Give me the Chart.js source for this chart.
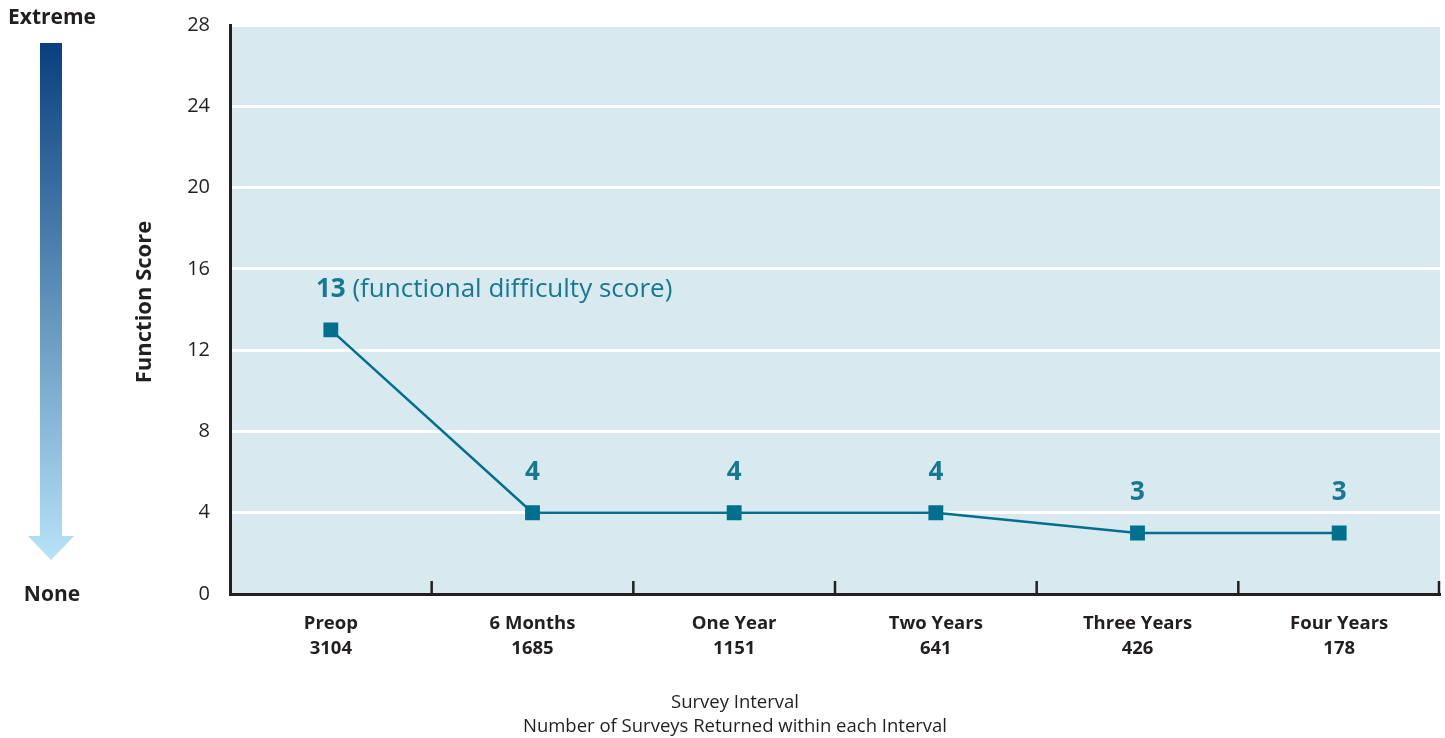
<!DOCTYPE html>
<html>
<head>
<meta charset="utf-8">
<script src="https://cdn.jsdelivr.net/npm/chart.js@4"></script>
<style>
  html, body { margin: 0; padding: 0; background: #fff; overflow: hidden; }
  #wrap { width: 1445px; height: 738px; position: relative; }
  canvas { display: block; }
</style>
</head>
<body>
<div id="wrap"><canvas id="chart" width="1445" height="738"></canvas></div>
<script>
const intervals = ["Preop", "6 Months", "One Year", "Two Years", "Three Years", "Four Years"];
const surveyCounts = ["3104", "1685", "1151", "641", "426", "178"];
const scores = [13, 4, 4, 4, 3, 3];
const yTicks = [0, 4, 8, 12, 16, 20, 24, 28];

const FONT = "'Open Sans', 'Noto Sans', sans-serif";
const TEXT = "#231f20";
const TEAL = "#00708e";
const LABEL = "#17788f";

// light blue plot background
const plotBg = {
  id: "plotBg",
  beforeDraw(chart) {
    const { ctx, chartArea: a } = chart;
    ctx.save();
    ctx.fillStyle = "#d9e9f0";
    ctx.fillRect(a.left, a.top, a.right - a.left, a.bottom - a.top);
    ctx.restore();
  }
};

// tick marks between categories, value labels, side arrow and texts
const extras = {
  id: "extras",
  afterDraw(chart) {
    const { ctx, chartArea: a } = chart;
    const x = chart.scales.x;
    const step = x.getPixelForValue(1) - x.getPixelForValue(0);
    ctx.save();

    // category boundary ticks
    ctx.strokeStyle = TEXT;
    ctx.lineWidth = 2.5;
    for (let i = 0; i < intervals.length; i++) {
      const bx = Math.min(x.getPixelForValue(i) + step / 2, a.right - 1);
      ctx.beginPath();
      ctx.moveTo(bx, a.bottom);
      ctx.lineTo(bx, a.bottom - 13);
      ctx.stroke();
    }

    // value labels
    const pts = chart.getDatasetMeta(0).data;
    ctx.fillStyle = LABEL;
    ctx.textBaseline = "middle";
    pts.forEach((p, i) => {
      const txt = String(scores[i]);
      ctx.font = "bold 26px " + FONT;
      if (i === 0) {
        const w = ctx.measureText(txt).width;
        const sx = p.x - w / 2;
        ctx.textAlign = "left";
        ctx.fillText(txt, sx, p.y - 40);
        ctx.font = "26px " + FONT;
        ctx.fillText(" (functional difficulty score)", sx + w, p.y - 40);
      } else {
        ctx.textAlign = "center";
        ctx.fillText(txt, p.x, p.y - 40);
      }
    });

    // severity arrow
    const g = ctx.createLinearGradient(0, 43, 0, 560);
    g.addColorStop(0, "#093f7e");
    g.addColorStop(1, "#b6e3f8");
    ctx.fillStyle = g;
    ctx.beginPath();
    ctx.moveTo(40, 43);
    ctx.lineTo(62, 43);
    ctx.lineTo(62, 536);
    ctx.lineTo(74, 536);
    ctx.lineTo(51, 560);
    ctx.lineTo(28, 536);
    ctx.lineTo(40, 536);
    ctx.closePath();
    ctx.fill();

    ctx.fillStyle = TEXT;
    ctx.textAlign = "center";
    ctx.font = "bold 21px " + FONT;
    ctx.fillText("Extreme", 52, 18);
    ctx.fillText("None", 52, 595);

    // y title
    ctx.save();
    ctx.translate(145, 302);
    ctx.rotate(-Math.PI / 2);
    ctx.font = "bold 22px " + FONT;
    ctx.fillText("Function Score", 0, 0);
    ctx.restore();

    // x title
    ctx.font = "18.5px " + FONT;
    ctx.fillText("Survey Interval", 735, 703);
    ctx.fillText("Number of Surveys Returned within each Interval", 735, 727);

    ctx.restore();
  }
};

new Chart(document.getElementById("chart"), {
  type: "line",
  data: {
    labels: intervals.map((n, i) => [n, surveyCounts[i]]),
    datasets: [{
      data: scores,
      borderColor: TEAL,
      borderWidth: 2.5,
      pointStyle: "rect",
      pointRadius: 10.5,
      pointHoverRadius: 10.5,
      pointBackgroundColor: TEAL,
      pointBorderColor: TEAL,
      pointBorderWidth: 0,
      tension: 0
    }]
  },
  options: {
    responsive: false,
    animation: false,
    events: [],
    // points add their own overflow padding otherwise (pushes right edge in)
    layout: { autoPadding: false, padding: { top: 25, right: 5, left: 0, bottom: 0 } },
    plugins: { legend: { display: false }, tooltip: { enabled: false } },
    scales: {
      x: {
        offset: true,
        afterFit: s => { s.height = 144; s.paddingLeft = 0; s.paddingRight = 0; },
        grid: { display: false, drawTicks: false },
        border: { display: true, color: TEXT, width: 3 },
        ticks: {
          color: TEXT,
          padding: 17,
          maxRotation: 0,
          font: { family: FONT, size: 18.5, weight: "bold", lineHeight: 1.35 }
        }
      },
      y: {
        min: 0,
        max: 28,
        afterFit: s => { s.width = 230; s.paddingTop = 0; s.paddingBottom = 0; },
        afterBuildTicks: s => { s.ticks = yTicks.map(v => ({ value: v })); },
        grid: {
          color: c => c.tick.value === 0 ? "rgba(0,0,0,0)" : "#ffffff",
          lineWidth: 3,
          drawTicks: false
        },
        border: { display: true, color: TEXT, width: 3 },
        ticks: {
          color: TEXT,
          padding: 20,
          font: { family: FONT, size: 20 }
        }
      }
    }
  },
  plugins: [plotBg, extras]
});
</script>
</body>
</html>
